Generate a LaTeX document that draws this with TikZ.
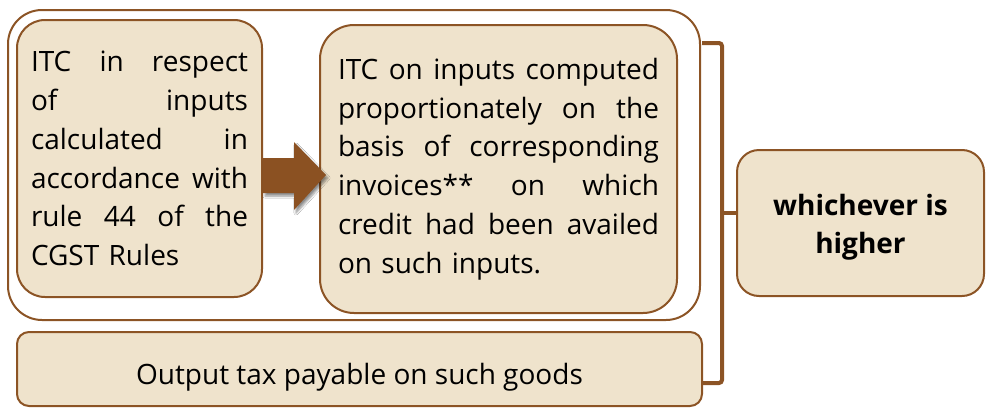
\documentclass[tikz,border=0pt]{standalone}
\usepackage{fontspec}
\setmainfont{Open Sans}
\usetikzlibrary{shadows.blur}
\definecolor{boxfill}{RGB}{239,227,204}
\definecolor{boxline}{RGB}{140,84,37}
\definecolor{arrowfill}{RGB}{139,81,34}
% one justified line of a fixed-width paragraph: stretchable word spaces
\newcommand\jline[1]{\leavevmode\hbox to\hsize{\spaceskip=0.26em plus 1fil\relax #1}}
% lower a text without changing the size the node sees
\newcommand\lowerby[2]{\raisebox{-#1}[\height][\depth]{#2}}
\tikzset{
  bodytext/.style={font=\fontsize{28}{38.8}\selectfont},
  tanbox/.style={draw=boxline, line width=2pt, fill=boxfill, rounded corners=#1,
    inner sep=0pt, bodytext},
  tanbox/.default=30pt,
  groupbox/.style={draw=boxline, line width=2pt, fill=white, rounded corners=34pt,
    inner sep=0pt},
  brk/.style={draw=boxline, line width=4pt, rounded corners=3pt},
}
\begin{document}
\begin{tikzpicture}[x=1pt,y=-1pt]
\useasboundingbox (0,0) rectangle (987,407);

% group of the two ITC boxes
\node[groupbox, minimum width=692pt, minimum height=310pt] (O) at (354,165) {};

\node[tanbox=28pt, minimum width=245pt, minimum height=277pt,
      text width=217pt, align=left] (L) at (139.5,158.5)
  {\jline{ITC in respect}\\
   \jline{of inputs}\\
   \jline{calculated in}\\
   \jline{accordance with}\\
   \jline{rule 44 of the}\\
   CGST Rules};

\node[tanbox=34pt, minimum width=357pt, minimum height=288pt,
      text width=321pt, align=left] (M) at (498.5,169)
  {\jline{ITC on inputs computed}\\
   \jline{proportionately on the}\\
   \jline{basis of corresponding}\\
   \jline{invoices** on which}\\
   \jline{credit had been availed}\\
   on such inputs.};

% block arrow from the rule-44 box to the invoice box
\begin{scope}[shift={(L.east)}]
  \fill[arrowfill, blur shadow={shadow xshift=2pt, shadow yshift=-3pt,
        shadow blur steps=6, shadow opacity=45}]
    (0,-0.5) -- (31,-0.5) -- (31,-16.5) -- (63,16.5) -- (31,51.5)
    -- (31,34.5) -- (0,34.5) -- cycle;
\end{scope}

\node[tanbox=12pt, minimum width=685pt, minimum height=74pt] (B) at (359.5,369)
  {\lowerby{8pt}{Output tax payable on such goods}};

\node[tanbox=22pt, minimum width=247pt, minimum height=146pt, align=center,
      font=\fontsize{28}{38}\selectfont\bfseries] (W) at (860.5,223)
  {\lowerby{4pt}{whichever is}\\\lowerby{4pt}{higher}};

% bracket joining both alternatives to the result
\coordinate (bt) at (702,43);
\coordinate (bb) at (702,383);
\draw[brk] (bt) -- ++(20,0) |- (bb);
\draw[brk, rounded corners=0pt] (722,213) -- (W.west |- 0,213);
\end{tikzpicture}
\end{document}
